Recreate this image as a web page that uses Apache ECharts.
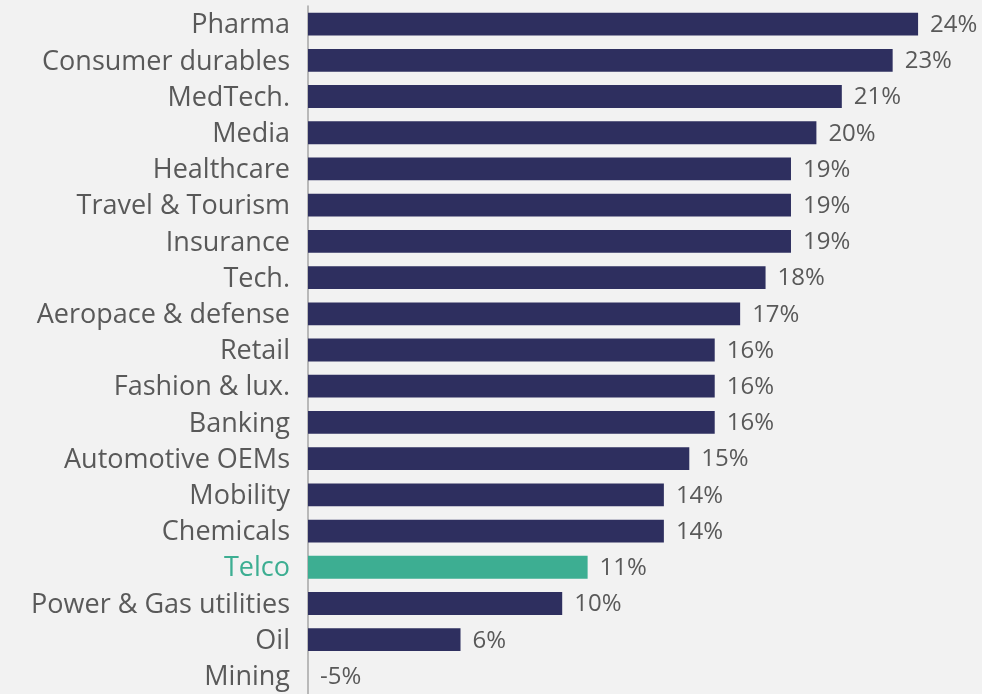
<!DOCTYPE html>
<html><head><meta charset="utf-8">
<script src="https://cdn.jsdelivr.net/npm/echarts@6/dist/echarts.min.js"></script>
<style>html,body{margin:0;padding:0;background:#f2f2f2;}#c{width:982px;height:694px;}</style>
</head><body><div id="c"></div>
<script>
const categories = ["Pharma","Consumer durables","MedTech.","Media","Healthcare","Travel & Tourism","Insurance","Tech.","Aeropace & defense","Retail","Fashion & lux.","Banking","Automotive OEMs","Mobility","Chemicals","Telco","Power & Gas utilities","Oil","Mining"];
const values = [24,23,21,20,19,19,19,18,17,16,16,16,15,14,14,11,10,6,-5];
const highlight = "Telco";
const navy = "#2e2f5f", green = "#3dae92", textGray = "#595959";
const FONT = "'Open Sans', sans-serif";
const chart = echarts.init(document.getElementById('c'));
chart.setOption({
  backgroundColor: '#f2f2f2',
  animation: false,
  grid: {left: 308, top: 6, width: 635.5, height: 693, containLabel: false},
  xAxis: {type: 'value', min: 0, max: 25, show: false},
  yAxis: {
    type: 'category', inverse: true, data: categories,
    axisLine: {show: true, lineStyle: {color: '#a6a6a6', width: 1.5}},
    axisTick: {show: false},
    axisLabel: {
      margin: 18, fontSize: 27, fontFamily: FONT, color: textGray,
      padding: [3, 0, 0, 0],
      formatter: v => v === highlight ? '{h|' + v + '}' : v,
      rich: {h: {color: green, fontSize: 27, fontFamily: FONT}}
    }
  },
  series: [{
    type: 'bar', barCategoryGap: '37%',
    data: values.map((v, i) => ({
      value: Math.max(v, 0),
      itemStyle: {color: categories[i] === highlight ? green : navy}
    })),
    label: {
      show: true, position: 'right', distance: 12, offset: [0, 1],
      fontSize: 24, fontFamily: FONT, color: textGray,
      formatter: p => values[p.dataIndex] + '%'
    }
  }]
});
</script></body></html>
